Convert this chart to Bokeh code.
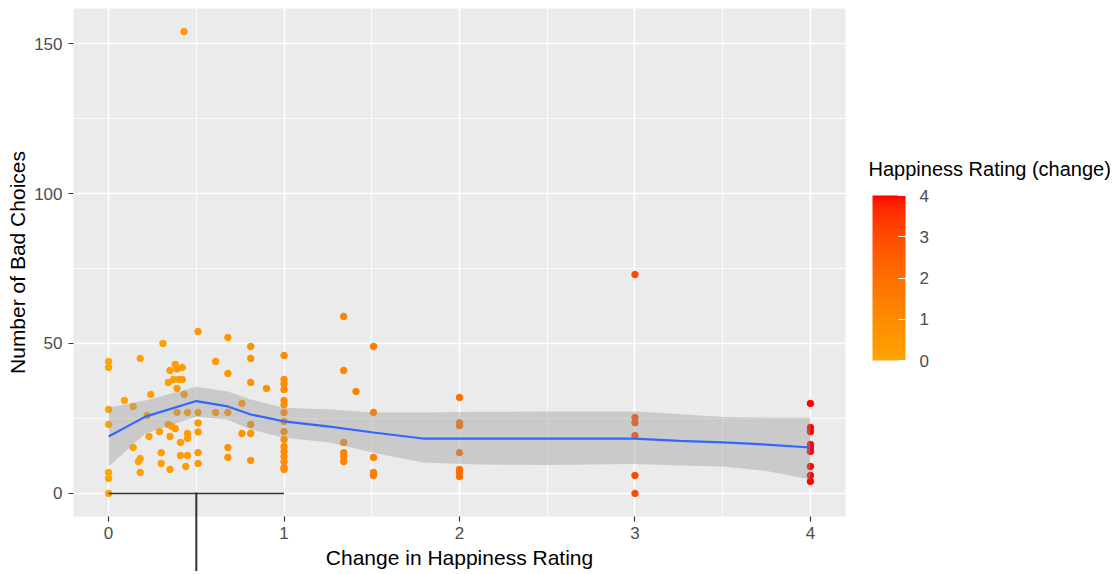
import numpy as np
from bokeh.plotting import figure
from bokeh.models import (ColumnDataSource, LinearColorMapper, ColorBar, FixedTicker, Range1d)
from bokeh.transform import linear_cmap
from bokeh.embed import file_html
from bokeh.resources import INLINE

# ---------------- data ----------------
change_x = [
    0, 0, 0, 0, 0, 0, 0,
    0.09, 0.14, 0.18, 0.31, 0.51, 0.24, 0.22,
    0.35, 0.38, 0.39, 0.42, 0.34, 0.37, 0.40, 0.42, 0.39,
    0.43, 0.39, 0.45, 0.51, 0.61, 0.68,
    0.68, 0.81, 0.81, 0.61, 0.68, 0.81, 0.90, 0.76,
    0.51, 0.51, 0.34, 0.36, 0.38, 0.29, 0.23, 0.35,
    0.45, 0.45, 0.41, 0.76, 0.81, 0.81,
    0.14, 0.30, 0.41, 0.45, 0.51, 0.68, 0.68,
    0.18, 0.17, 0.30, 0.35, 0.44, 0.51, 0.81, 0.18,
    0.43,
    1, 1, 1, 1, 1, 1, 1, 1, 1, 1, 1, 1, 1, 1, 1, 1,
    1.34, 1.34, 1.34, 1.34, 1.34, 1.34, 1.41,
    1.51, 1.51, 1.51, 1.51, 1.51,
    2, 2, 2, 2, 2, 2, 2,
    3, 3, 3, 3, 3, 3,
    4, 4, 4, 4, 4, 4, 4, 4, 4,
]
bad_choices = [
    44, 42, 28, 23, 7, 5, 0,
    31, 29, 45, 50, 54, 33, 26,
    41, 43, 41.5, 42, 37, 38, 38, 38, 35,
    33, 27, 27, 27, 27, 27,
    52, 49, 45, 44, 40, 37, 35, 30,
    23.5, 20.5, 23, 22.3, 21.6, 20.6, 19, 19,
    20, 18.3, 17, 20, 20, 23,
    15.3, 13.6, 12.6, 12.6, 13.6, 15.3, 12,
    11.6, 10.6, 10, 8, 9, 10, 11, 7,
    154,
    46, 38, 36.5, 34.6, 31, 29.6, 27, 24, 20.6, 18, 15.6, 14, 12.3, 10.6, 8.6, 8,
    59, 41, 17, 13.6, 12.3, 10.6, 34,
    49, 27, 12, 7, 6,
    32, 23.6, 22.6, 13.6, 8, 7, 5.6,
    73, 25.3, 23.6, 19.3, 6, 0,
    30, 22, 20.6, 16.3, 15.3, 14, 9, 6, 4,
]

smooth_x = [0, 0.21, 0.5, 0.68, 0.81, 1.0, 1.26, 1.51, 1.79, 2.1, 2.5, 3.0, 3.25, 3.5, 3.75, 4.0]
smooth_fit = [19, 25.6, 30.8, 29, 26.3, 24, 22.3, 20.3, 18.3, 18.3, 18.3, 18.3, 17.5, 17, 16.3, 15.3]
smooth_upper = [28.6, 31, 35.6, 34, 31.3, 28.6, 28, 27, 27, 27.2, 27.3, 27.3, 26.5, 25.5, 25.3, 25.3]
smooth_lower = [9, 20, 25.6, 24.6, 21.3, 18.6, 17, 13.6, 10.3, 9.6, 9.5, 9.8, 9.3, 9, 7.5, 4.6]

x_ticks = [0, 1, 2, 3, 4]
x_minor = [0.5, 1.5, 2.5, 3.5]
y_ticks = [0, 50, 100, 150]
y_minor = [25, 75, 125]
legend_ticks = [0, 1, 2, 3, 4]
legend_title = "Happiness Rating (change)"

# stray annotation lines seen in the reference
hline_x = [0, 1]
hline_y = [0, 0]
vline_x = 0.5

# ---------------- colour gradient (Lab interpolation orange -> red) ----------------
def _to_lab(hexc):
    rgb = np.array([int(hexc[i:i + 2], 16) for i in (1, 3, 5)]) / 255.0
    lin = np.where(rgb <= 0.04045, rgb / 12.92, ((rgb + 0.055) / 1.055) ** 2.4)
    M = np.array([[0.4124, 0.3576, 0.1805], [0.2126, 0.7152, 0.0722], [0.0193, 0.1192, 0.9505]])
    xyz = M @ lin / np.array([0.95047, 1.0, 1.08883])
    f = np.where(xyz > 0.008856, np.cbrt(xyz), 7.787 * xyz + 16 / 116)
    return np.array([116 * f[1] - 16, 500 * (f[0] - f[1]), 200 * (f[1] - f[2])])

def _from_lab(lab):
    L, a, b = lab
    fy = (L + 16) / 116
    fx = fy + a / 500
    fz = fy - b / 200
    f = np.array([fx, fy, fz])
    xyz = np.where(f ** 3 > 0.008856, f ** 3, (f - 16 / 116) / 7.787) * np.array([0.95047, 1.0, 1.08883])
    Mi = np.array([[3.2406, -1.5372, -0.4986], [-0.9689, 1.8758, 0.0415], [0.0557, -0.2040, 1.0570]])
    lin = np.clip(Mi @ xyz, 0, 1)
    rgb = np.where(lin <= 0.0031308, 12.92 * lin, 1.055 * lin ** (1 / 2.4) - 0.055)
    rgb = np.clip(np.round(rgb * 255), 0, 255).astype(int)
    return "#%02x%02x%02x" % tuple(rgb)

lab_lo, lab_hi = _to_lab("#FFA500"), _to_lab("#FF0000")
palette = [_from_lab(lab_lo + t * (lab_hi - lab_lo)) for t in np.linspace(0, 1, 256)]

FONT = "Liberation Sans"
X0, X1 = -0.2, 4.2
FW, FH = 772, 508

p = figure(frame_width=FW, frame_height=FH, output_backend="svg", toolbar_location=None,
           x_range=Range1d(X0, X1), y_range=Range1d(-7.7, 161.7),
           min_border_left=73, min_border_right=266, min_border_top=8, min_border_bottom=0)
p.background_fill_color = "#EBEBEB"
p.border_fill_color = "white"
p.outline_line_color = None

p.xaxis.ticker = FixedTicker(ticks=x_ticks, minor_ticks=x_minor)
p.yaxis.ticker = FixedTicker(ticks=y_ticks, minor_ticks=y_minor)
for g in (p.xgrid, p.ygrid):
    g.grid_line_color = "white"
    g.grid_line_width = 1.5
    g.minor_grid_line_color = "white"
    g.minor_grid_line_width = 0.8

for ax in (p.xaxis, p.yaxis):
    ax.axis_line_color = None
    ax.major_tick_line_color = "#333333"
    ax.major_tick_line_width = 1.2
    ax.major_tick_out = 5
    ax.major_tick_in = 0
    ax.minor_tick_line_color = None
    ax.major_label_text_font = FONT
    ax.major_label_text_font_size = "17px"
    ax.major_label_text_color = "#4D4D4D"
    ax.axis_label_text_font = FONT
    ax.axis_label_text_font_size = "21px"
    ax.axis_label_text_font_style = "normal"
    ax.axis_label_text_color = "black"

p.xaxis.axis_label = "Change in Happiness Rating"
p.yaxis.axis_label = "Number of Bad Choices"
p.xaxis.major_label_standoff = 5
p.xaxis.axis_label_standoff = 4
p.yaxis.major_label_standoff = 6
p.yaxis.axis_label_standoff = 2

src = ColumnDataSource(dict(x=change_x, y=bad_choices))
cmap = linear_cmap("x", palette, 0, 4)
p.scatter("x", "y", source=src, size=6.5, fill_color=cmap, line_color=cmap)

p.varea(x=smooth_x, y1=smooth_lower, y2=smooth_upper, fill_color="#999999", fill_alpha=0.4)
p.line(smooth_x, smooth_fit, line_color="#3366FF", line_width=2.2)

p.line(hline_x, hline_y, line_color="#333333", line_width=1.5)

# vertical stray line: a one-colour bar (colour bars are not clipped to the frame)
vx = (vline_x - X0) / (X1 - X0) * FW
line_mapper = LinearColorMapper(palette=["#333333"], low=0, high=1)
p.add_layout(ColorBar(color_mapper=line_mapper, ticker=FixedTicker(ticks=[]), orientation="vertical",
                      width=2, height=84, location=(vx - 1, -60), major_tick_line_color=None,
                      minor_tick_line_color=None, major_label_text_alpha=0, bar_line_color=None,
                      border_line_color=None, background_fill_alpha=0, padding=0, margin=0), "center")

mapper = LinearColorMapper(palette=palette, low=0, high=4)
cb = ColorBar(color_mapper=mapper, ticker=FixedTicker(ticks=legend_ticks),
              width=33, height=165, location=(799, 156), orientation="vertical",
              major_label_text_font=FONT, major_label_text_font_size="17px",
              major_label_text_color="#4D4D4D", label_standoff=14,
              major_tick_line_color="white", major_tick_line_width=1.2, major_tick_in=7, major_tick_out=0,
              minor_tick_line_color=None, bar_line_color=None, border_line_color=None,
              background_fill_color="white", background_fill_alpha=0, padding=0, margin=0)
p.add_layout(cb, "center")

# legend title: horizontal colour bar with an invisible bar, so the title stays horizontal
title_bar = ColorBar(color_mapper=mapper, ticker=FixedTicker(ticks=[]), orientation="horizontal",
                     width=1, height=1, location=(795, 336), scale_alpha=0,
                     title=legend_title, title_text_font=FONT, title_text_font_size="20px",
                     title_text_font_style="normal", title_text_color="black", title_standoff=0,
                     major_tick_line_color=None, minor_tick_line_color=None, major_label_text_alpha=0,
                     bar_line_color=None, border_line_color=None, background_fill_alpha=0,
                     padding=0, margin=0)
p.add_layout(title_bar, "center")

open("out.html", "w").write(file_html(p, INLINE))
